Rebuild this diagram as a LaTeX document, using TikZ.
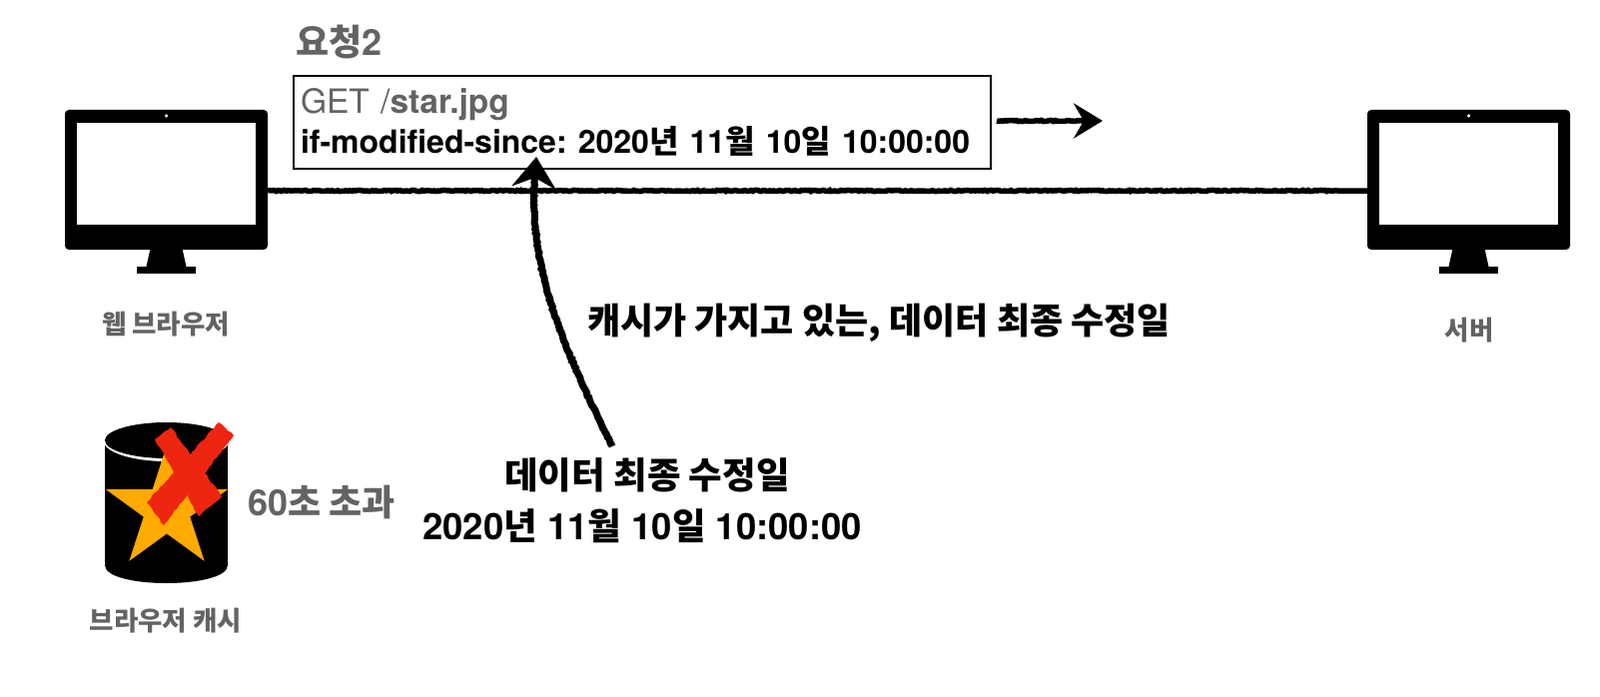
\documentclass[tikz,border=0pt]{standalone}
\usepackage{fontspec}
\usetikzlibrary{arrows.meta, decorations.pathmorphing, shapes.geometric}
\setmainfont{TeX Gyre Heros}
\newfontfamily\krfont{Noto Sans CJK KR}
\newcommand{\kr}[1]{{\krfont #1}}
\frenchspacing
\definecolor{labelgray}{HTML}{636363}
\definecolor{starorange}{HTML}{FFAA00}
\definecolor{crossred}{HTML}{EE2510}
\tikzset{
  monitorbody/.style={fill=black, rounded corners=4pt, minimum width=203pt, minimum height=140pt, inner sep=0pt},
  monitorscreen/.style={fill=white, minimum width=179.5pt, minimum height=102pt, inner sep=0pt},
  monitordot/.style={fill=white, circle, minimum size=3.5pt, inner sep=0pt},
  smalllabel/.style={text=labelgray, font=\fontsize{26.5}{30}\selectfont\bfseries},
  biglabel/.style={text=black, font=\fontsize{36.5}{44}\selectfont\bfseries},
  roughline/.style={line width=5.5pt, decorate, decoration={random steps, segment length=2pt, amplitude=0.6pt, post=lineto, post length=26pt}},
  roughtip/.style={-{Stealth[length=29pt, width=35pt, inset=10pt]}},
  bigroughtip/.style={-{Stealth[length=31pt, width=44pt, inset=10pt]}},
  roughfill/.style={fill=crossred, decorate, decoration={random steps, segment length=4pt, amplitude=0.8pt}},
}
\begin{document}
\begin{tikzpicture}[x=1pt, y=-1pt]
\useasboundingbox (0,0) rectangle (1602,698);

% Monitors
\foreach \name/\cx in {browser/166.5, server/1470.5} {
  \begin{scope}[shift={(\cx,0)}]
    \fill (-16,249) -- (16,249) -- (20,267) -- (-20,267) -- cycle;
    \fill (-29.5,267) rectangle (29.5,274);
    \node[monitorbody] (\name) at (0,180) {};
    \node[monitorscreen] (\name screen) at (0,174) {};
    \node[monitordot] (\name dot) at (0,116) {};
  \end{scope}
}
\node[smalllabel] (browserlabel) at (166,325) {\kr{웹 브라우저}};
\node[smalllabel] (serverlabel) at (1471,331) {\kr{서버}};

% Request box
\node[text=labelgray, anchor=base west, inner sep=0pt, font=\fontsize{36}{42}\selectfont\bfseries] (requesttitle) at (296,56) {\kr{요청}2};
\node[draw, line width=2pt, anchor=north west, minimum width=698pt, minimum height=93pt, text width=684pt, inner xsep=7pt, inner ysep=0pt, align=left, font=\fontsize{33.5}{40}\selectfont] (requestbox) at (293,75)
  {\textcolor{labelgray}{GET /\textbf{star.jpg}}\\\fontsize{32}{40}\selectfont\textbf{if-modified-since: 2020\kr{년} 11\kr{월} 10\kr{일} 10:00:00}};

% Connection line
\draw[roughline] ([yshift=-11pt]browser.east) -- ([yshift=-11pt]server.west);

% Direction arrow
\coordinate (dirstart) at (998,121);
\coordinate (dirend) at (1104,121);
\draw[roughline, roughtip] (dirstart) -- (dirend);

% Browser cache
\fill (105,441) -- (105,566) .. controls (105,578) and (136,584) .. (166.5,584) .. controls (197,584) and (228,578) .. (228,566) -- (228,441) -- cycle;
\fill[white] (166.5,441) ellipse [x radius=63, y radius=21];
\fill (166.5,441) ellipse [x radius=61.5, y radius=18];
\node[star, star points=5, star point ratio=2.618, fill=starorange, minimum size=128pt, inner sep=0pt] (cachestar) at (167,510) {};
\path[roughfill] (155,440) -- (171,428) -- (222,497) -- (199,517) -- cycle;
\path[roughfill] (219,423) -- (234,436) -- (164,526) -- (147,503) -- cycle;
\node[smalllabel] (cachelabel) at (166,622) {\kr{브라우저 캐시}};
\node[text=labelgray, font=\fontsize{36}{44}\selectfont\bfseries] (expiredlabel) at (322,503) {60\kr{초 초과}};

% Cache date labels
\node[biglabel, font=\fontsize{36}{44}\selectfont\bfseries] (cachedlabel) at (880,323) {\kr{캐시가 가지고 있는, 데이터 최종 수정일}};
\node[biglabel] (modifiedlabel) at (648,476) {\kr{데이터 최종 수정일}};
\node[biglabel] (datelabel) at (643,527) {2020\kr{년} 11\kr{월} 10\kr{일} 10:00:00};

% Curved arrow
\coordinate (curvestart) at (613,447);
\coordinate (curveend) at (537,157);
\draw[roughline, line width=7pt, bigroughtip] (curvestart) .. controls (560,340) and (525,260) .. (curveend);
\end{tikzpicture}
\end{document}
